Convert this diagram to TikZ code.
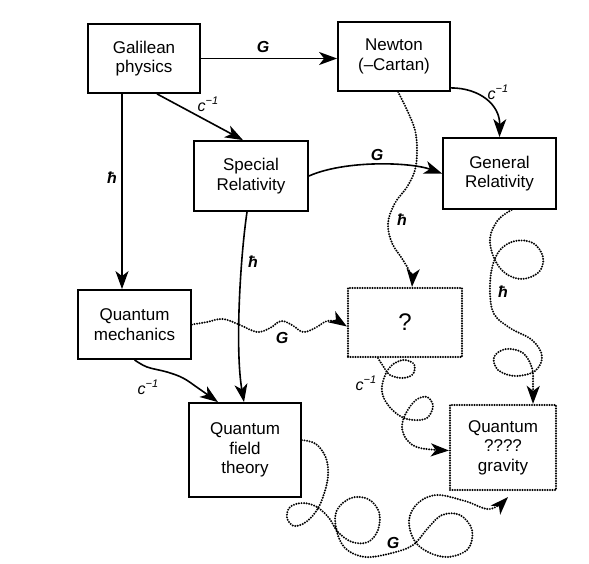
\documentclass[tikz,border=0pt]{standalone}
\usepackage{fontspec}
\setmainfont{Liberation Sans}
\usetikzlibrary{arrows.meta}
\begin{document}
\begin{tikzpicture}[x=1pt,y=-1pt,
  box/.style={draw, line width=1.8pt, rectangle, align=center, inner sep=0pt,
    font=\fontsize{17}{19.5}\selectfont},
  dbox/.style={box, dash pattern=on 0pt off 2.5pt, line cap=round, line width=2.2pt},
  arr/.style={line width=1.6pt, -{Stealth[length=18pt,width=13pt,inset=5pt]}},
  darr/.style={arr, line width=2.2pt, dash pattern=on 0pt off 2.6pt, line cap=round},
  lab/.style={inner sep=0pt, font=\fontsize{16}{16}\selectfont\itshape}
]
\useasboundingbox (0,0) rectangle (589,563);
\fill[white] (0,0) rectangle (589,563);

% boxes
\node[box, minimum width=112pt, minimum height=69pt] (gal) at (144,58.5) {Galilean\\physics};
\node[box, minimum width=112pt, minimum height=69pt] (newt) at (394,56.5) {Newton\\(–Cartan)};
\node[box, minimum width=114pt, minimum height=70pt] (sr) at (251,176) {Special\\Relativity};
\node[box, minimum width=113pt, minimum height=71pt] (gr) at (499.5,173.5) {General\\Relativity};
\node[box, minimum width=113pt, minimum height=69pt] (qm) at (134.5,324.5) {Quantum\\mechanics};
\node[dbox, minimum width=114pt, minimum height=69pt, font=\fontsize{24}{24}\selectfont] (q) at (405,322.5) {?};
\node[box, minimum width=112pt, minimum height=94pt] (qft) at (245,450) {Quantum\\field\\theory};
\node[dbox, minimum width=106pt, minimum height=85pt] (qg) at (503,447.5) {Quantum\\????\\gravity};

% helper coordinates
\coordinate (galA) at ([xshift=13pt]gal.south);
\coordinate (srN) at ([xshift=-8pt]sr.north);
\coordinate (galB) at ([xshift=-22pt]gal.south);
\coordinate (newtA) at ([yshift=4pt]newt.south east);
\coordinate (srS) at ([xshift=-4pt]sr.south);
\coordinate (qftN) at ([xshift=-1pt]qft.north);
\coordinate (newtS) at ([xshift=4pt]newt.south);
\coordinate (qN) at ([xshift=7pt]q.north);
\coordinate (grS) at ([xshift=12pt]gr.south);
\coordinate (qgN) at ([xshift=30pt]qg.north);
\coordinate (qW) at ([yshift=-4pt]q.west);
\coordinate (qftNL) at ([xshift=-27pt]qft.north);
\coordinate (qS) at ([xshift=-27pt]q.south);
\coordinate (qgW) at ([yshift=-3pt]qg.west);
\coordinate (qftE) at ([yshift=10pt]qft.east);
\coordinate (qgS) at ([xshift=5pt,yshift=-6pt]qg.south);

% solid connectors
\draw[arr] (gal.east) -- (gal.east -| newt.west);
\draw[arr] (galA) -- (srN);
\draw[arr] (galB) -- (galB |- qm.north);
\draw[arr] (newtA) .. controls (480,88) and (500,105) .. (gr.north);
\draw[arr] (sr.east) .. controls (345,160) and (410,162) .. (gr.west);
\draw[arr] (srS) .. controls (240,260) and (235,350) .. (qftN);
\draw[arr] plot[smooth, tension=0.6] coordinates {(qm.south) (147,367) (167,372) (183,378) (198,388) (qftNL)};

% dotted connectors
\draw[darr] plot[smooth, tension=0.6] coordinates {(newtS) (407,110) (415,130) (417,150) (415,170) (407,187) (395,203) (388,223) (392,243) (403,260) (411,275) (qN)};
\draw[darr] plot[smooth, tension=0.6] coordinates {(grS) (498,220) (490,238) (494,258) (505,273) (522,279) (539,272) (543,257) (533,243) (515,241) (500,250) (492,268) (490,292) (494,314) (510,328) (532,340) (542,356) (535,371) (515,376) (498,370) (494,357) (506,349) (523,353) (532,368) (533,385) (qgN)};
\draw[darr] plot[smooth, tension=0.6] coordinates {(qm.east) (207,322) (223,319) (240,325) (257,332) (270,328) (281,321) (292,325) (303,332) (315,328) (327,321) (338,322) (qW)};
\draw[darr] plot[smooth, tension=0.6] coordinates {(qS) (383,366) (390,375) (403,378) (413,374) (414,364) (403,360) (391,366) (384,378) (382,392) (388,405) (400,416) (413,420) (427,418) (433,406) (427,397) (416,400) (406,413) (402,427) (407,440) (420,448) (qgW)};
\draw[darr] plot[smooth, tension=0.6] coordinates {(qftE) (316,444) (326,458) (328,476) (324,494) (317,510) (306,522) (294,526) (287,518) (290,507) (303,503) (317,507) (329,518) (338,532) (352,542) (368,542) (378,530) (379,512) (368,499) (351,498) (337,510) (336,528) (345,548) (365,557) (392,553) (413,545) (428,528) (442,515) (460,515) (472,530) (468,549) (448,557) (428,552) (414,540) (409,520) (418,503) (437,495) (465,501) (490,509) (qgS)};

% labels
\node[lab] (l1) at (263,47) {\bfseries G};
\node[lab] (l2) at (208,104) {c\raisebox{0.45em}{\fontsize{11}{11}\selectfont −1}};
\node[lab] (l3) at (112,178) {\bfseries ħ};
\node[lab] (l4) at (498,92) {c\raisebox{0.45em}{\fontsize{11}{11}\selectfont −1}};
\node[lab] (l5) at (377,155) {\bfseries G};
\node[lab] (l6) at (253,262) {\bfseries ħ};
\node[lab] (l7) at (402,220) {\bfseries ħ};
\node[lab] (l8) at (503,292) {\bfseries ħ};
\node[lab] (l9) at (282,338) {\bfseries G};
\node[lab] (l10) at (148,387) {c\raisebox{0.45em}{\fontsize{11}{11}\selectfont −1}};
\node[lab] (l11) at (366,383) {c\raisebox{0.45em}{\fontsize{11}{11}\selectfont −1}};
\node[lab] (l12) at (393,543) {\bfseries G};
\end{tikzpicture}
\end{document}
